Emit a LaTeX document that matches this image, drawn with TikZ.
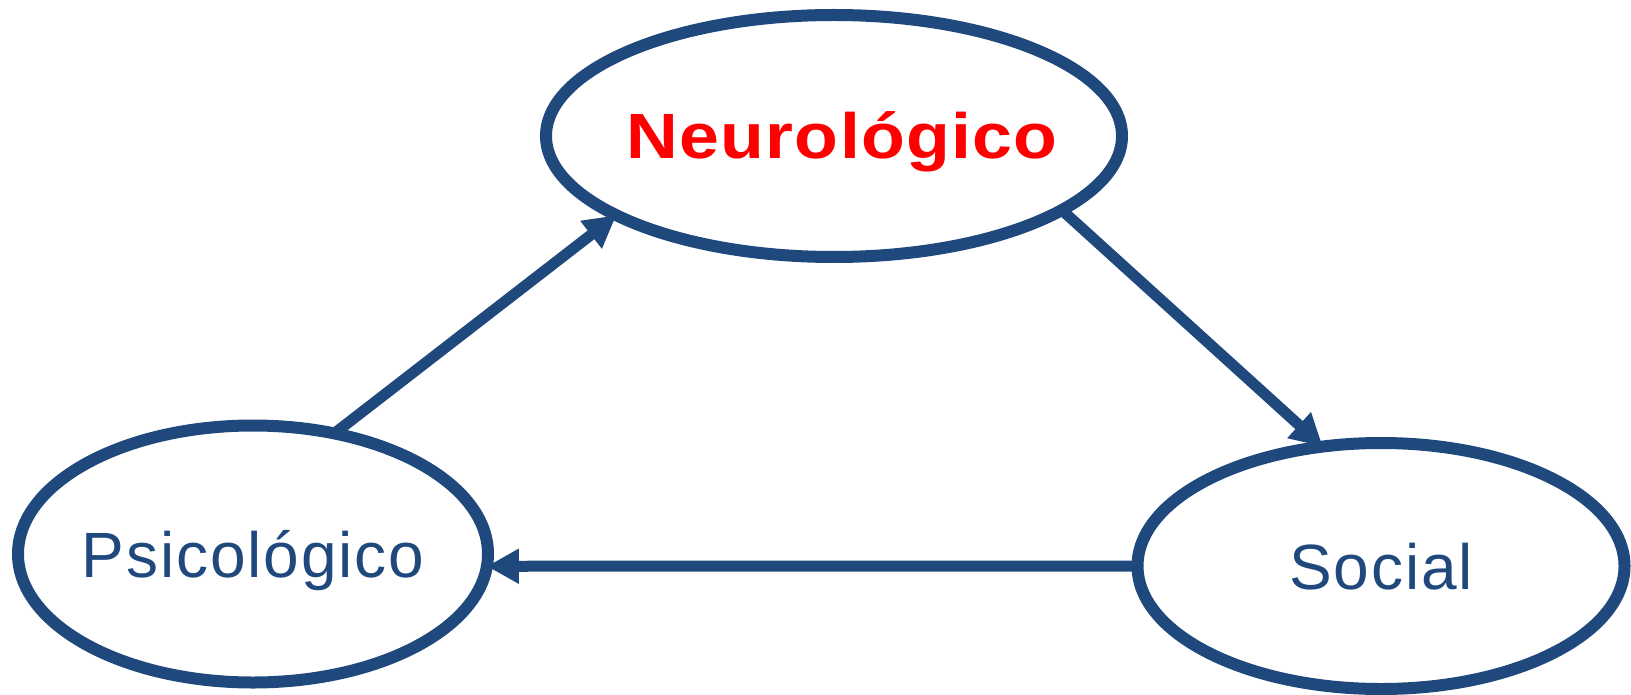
\documentclass[tikz,border=0pt]{standalone}
\usepackage{fontspec}
\setmainfont{Liberation Sans}
\usetikzlibrary{shapes.geometric,arrows.meta}
\definecolor{azul}{RGB}{31,73,125}
\definecolor{rojo}{RGB}{255,0,0}
\begin{document}
\begin{tikzpicture}[x=0.5pt, y=-0.5pt, >={Triangle[length=16pt,width=16.5pt]},
	elipse/.style={ellipse, draw=azul, line width=6pt, inner sep=-60pt, outer sep=0pt,
		text height=23pt, text depth=0pt},
	flecha/.style={->, draw=azul, line width=5.5pt},
	texto/.style={font=\fontsize{32}{38}\selectfont, text=azul}]
			\useasboundingbox (0,0) rectangle (1631,695);
			\node[elipse, minimum width=288pt, minimum height=121pt] (neu) at (834,136)
				{\hspace*{8pt}\bfseries\addfontfeature{FakeStretch=1.12,LetterSpace=2}\fontsize{32}{38}\selectfont\color{rojo}Neurológico};
			\node[elipse, texto, minimum width=235pt, minimum height=128.5pt] (psi) at (253,554)
				{\addfontfeature{LetterSpace=3}Psicológico};
			\node[elipse, texto, minimum width=243.5pt, minimum height=123pt] (soc) at (1381,566)
				{\addfontfeature{LetterSpace=3}Social};
			\foreach \a/\b in {psi.56/neu.200, neu.342/soc.116, soc.west/psi.-3}
				\draw[flecha] (\a)--(\b);
\end{tikzpicture}
\end{document}
